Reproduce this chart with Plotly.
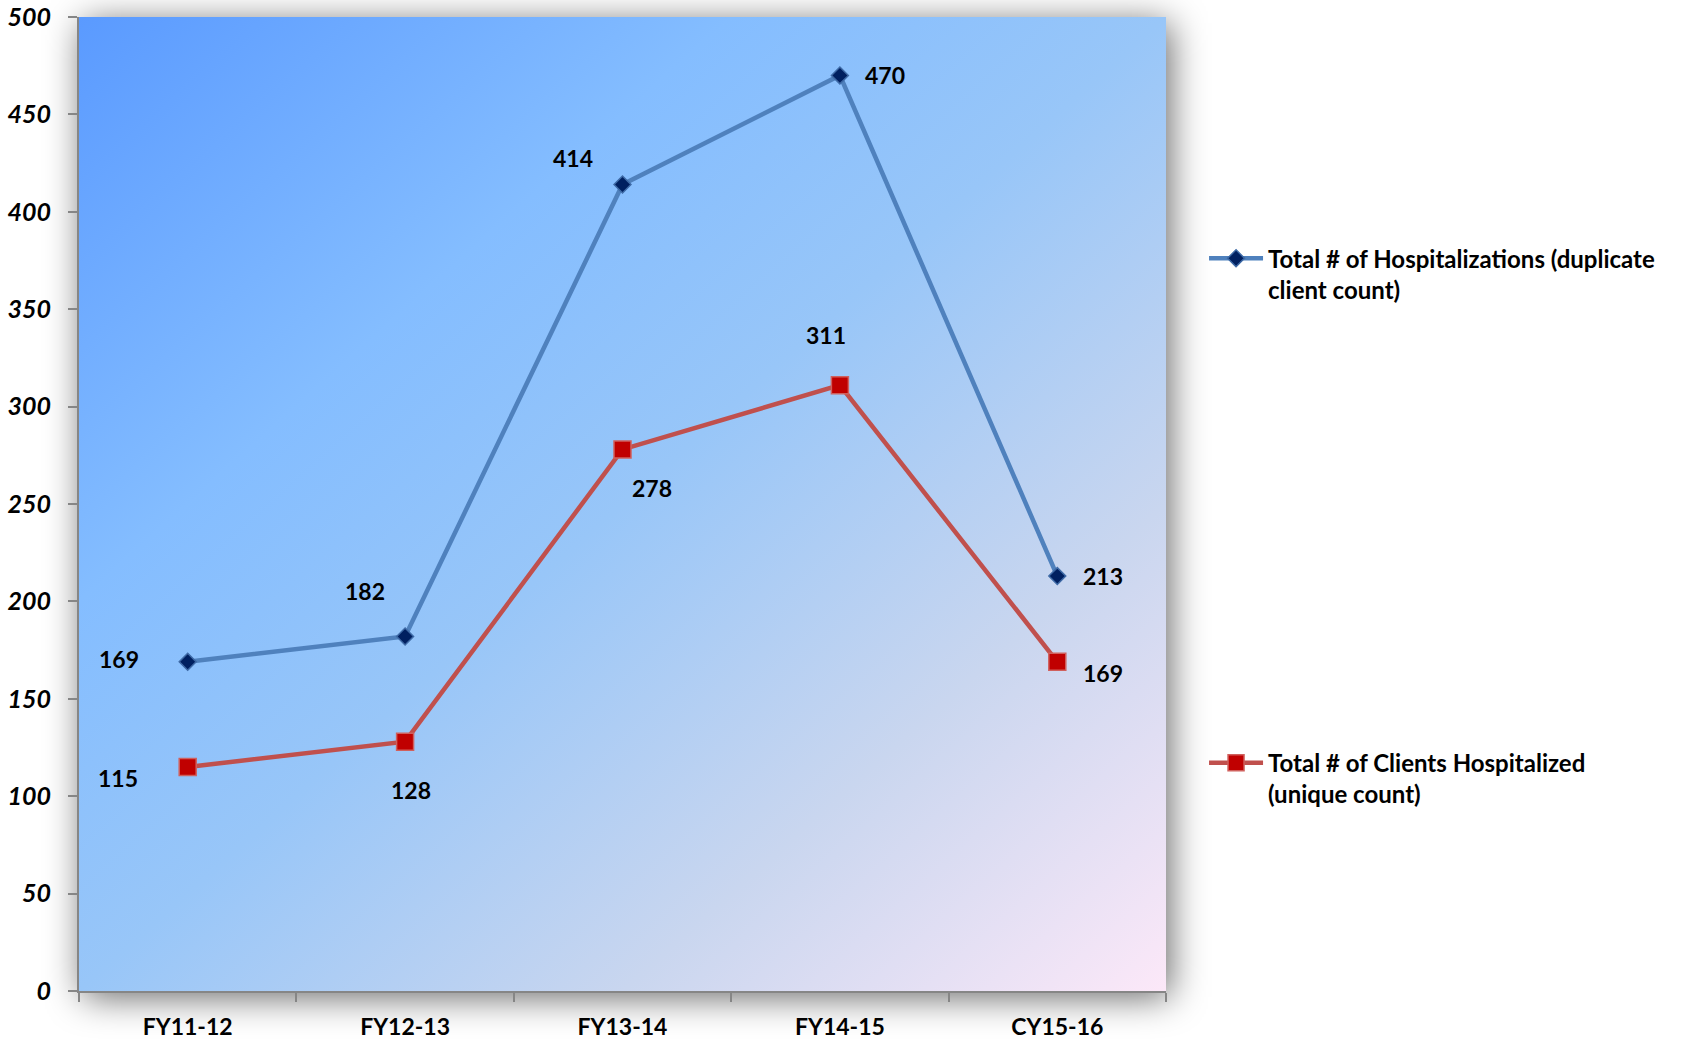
import base64
import plotly.graph_objects as go

categories = ["FY11-12", "FY12-13", "FY13-14", "FY14-15", "CY15-16"]
hospitalizations = [169, 182, 414, 470, 213]
clients = [115, 128, 278, 311, 169]
y_ticks = [0, 50, 100, 150, 200, 250, 300, 350, 400, 450, 500]

name_hosp = "Total # of Hospitalizations (duplicate<br>client count)"
name_cli = "Total # of Clients Hospitalized<br>(unique count)"

# label offsets in pixels (dx, dy upward)
hosp_off = [(-69, 3), (-40, 45), (-50, 27), (45, 0), (46, 0)]
cli_off = [(-70, -11), (6, -48), (29, -39), (-14, 50), (46, -11)]

W, H = 1697, 1039
L, R, T, B = 79, 531, 17, 48
PW, PH = W - L - R, H - T - B
E = 90

svg = f'''<svg xmlns="http://www.w3.org/2000/svg" width="{PW+2*E}" height="{PH+2*E}" viewBox="0 0 {PW+2*E} {PH+2*E}">
<defs>
<linearGradient id="g" x1="0" y1="0" x2="1" y2="1">
<stop offset="0" stop-color="#5a9aff"/>
<stop offset="0.3" stop-color="#84bdff"/>
<stop offset="0.5" stop-color="#98c6f8"/>
<stop offset="0.75" stop-color="#c9d6ef"/>
<stop offset="1" stop-color="#fce8f8"/>
</linearGradient>
<filter id="f" x="-20%" y="-20%" width="140%" height="140%"><feGaussianBlur stdDeviation="18"/></filter>
</defs>
<rect x="{E+4}" y="{E+6}" width="{PW}" height="{PH}" fill="#000" fill-opacity="0.6" filter="url(#f)"/>
<rect x="{E}" y="{E}" width="{PW}" height="{PH}" fill="url(#g)"/>
</svg>'''
src = "data:image/svg+xml;base64," + base64.b64encode(svg.encode()).decode()

fig = go.Figure()
fig.add_trace(go.Scatter(
    x=categories, y=hospitalizations, name=name_hosp, mode="lines+markers",
    line=dict(color="#4f81bd", width=4.5),
    marker=dict(symbol="diamond", size=13, color="#002060", line=dict(color="#3e6aa6", width=1.5)),
    legend="legend", cliponaxis=False,
))
fig.add_trace(go.Scatter(
    x=categories, y=clients, name=name_cli, mode="lines+markers",
    line=dict(color="#c0504d", width=4.5),
    marker=dict(symbol="square", size=17, color="#c00000", line=dict(color="#d0605d", width=1.5)),
    legend="legend2", cliponaxis=False,
))

font_lbl = dict(family="Lato", size=23, color="#000")
for xs, ys, offs in [(categories, hospitalizations, hosp_off), (categories, clients, cli_off)]:
    for xv, yv, (dx, dy) in zip(xs, ys, offs):
        fig.add_annotation(x=xv, y=yv, text=f"<b>{yv}</b>", showarrow=False,
                           xshift=dx, yshift=dy, font=font_lbl)

fig.add_layout_image(dict(
    source=src, xref="paper", yref="paper",
    x=-E / PW, y=1 + E / PH, sizex=(PW + 2 * E) / PW, sizey=(PH + 2 * E) / PH,
    xanchor="left", yanchor="top", sizing="stretch", layer="below",
))

leg_common = dict(font=dict(family="Lato", size=24, color="#000", weight="bold"),
                  bgcolor="rgba(0,0,0,0)",
                  valign="top", itemwidth=54, xanchor="left", yanchor="top")

fig.update_layout(
    width=W, height=H,
    margin=dict(l=L, r=R, t=T, b=B, autoexpand=False),
    paper_bgcolor="#ffffff", plot_bgcolor="rgba(0,0,0,0)",
    showlegend=True,
    legend=dict(x=1.035, y=0.775, **leg_common),
    legend2=dict(x=1.035, y=0.257, **leg_common),
    xaxis=dict(
        type="category", range=[-0.5, 4.5], showgrid=False, showline=True, automargin=False,
        linecolor="#868686", linewidth=2, ticks="outside", tickson="boundaries",
        ticklen=9, tickcolor="#868686", tickwidth=1.5,
        tickfont=dict(family="Lato", size=23, color="#000", weight="bold"),
        ticklabelstandoff=14,
    ),
    yaxis=dict(
        range=[0, 500], tickvals=y_ticks, showgrid=False, zeroline=False, showline=True,
        automargin=False,
        linecolor="#868686", linewidth=2, ticks="outside", ticklen=9,
        tickcolor="#868686", tickwidth=1.5,
        tickfont=dict(family="Lato", size=25, color="#000", weight="bold", style="italic"),
        ticklabelstandoff=12,
    ),
)

fig.write_html("out.html")
